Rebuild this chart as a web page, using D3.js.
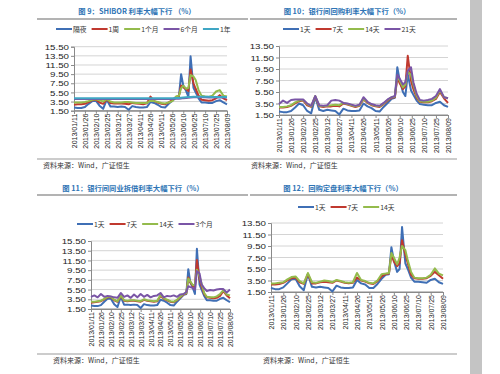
<!DOCTYPE html>
<html lang="zh">
<head>
<meta charset="UTF-8">
<title>利率大幅下行</title>
<script src="https://d3js.org/d3.v7.min.js"></script>
<style>
  * { margin: 0; padding: 0; }
  body { background: #fff; width: 500px; height: 374px; overflow: hidden; }
  svg { display: block; }
  .title { font-family: "Noto Sans CJK SC", sans-serif; font-size: 7.3px; fill: #2e74b5; font-weight: bold; }
  .legend text { font-family: "Noto Sans CJK SC", sans-serif; font-size: 6.8px; fill: #333; }
  .src { font-family: "Noto Sans CJK SC", serif; font-size: 7px; fill: #333; }
  .ytick { font-family: "Liberation Sans", Arial, sans-serif; font-size: 7.6px; fill: #222; }
  .xtick { font-family: "Liberation Sans", Arial, sans-serif; font-size: 7px; fill: #222; }
</style>
</head>
<body>
<svg id="chart" width="500" height="374"></svg>
<script>
// sample dates shared by all four charts
const dates = [
  "2013-01-11","2013-01-16","2013-01-21","2013-01-26","2013-01-31","2013-02-05","2013-02-10","2013-02-15","2013-02-20","2013-02-25",
  "2013-03-02","2013-03-07","2013-03-12","2013-03-17","2013-03-22","2013-03-27","2013-04-01","2013-04-06","2013-04-11","2013-04-16",
  "2013-04-21","2013-04-26","2013-05-01","2013-05-06","2013-05-11","2013-05-16","2013-05-21","2013-05-26","2013-05-31","2013-06-04",
  "2013-06-07","2013-06-10","2013-06-14","2013-06-17","2013-06-20","2013-06-24","2013-06-27","2013-07-01","2013-07-05","2013-07-10",
  "2013-07-15","2013-07-20","2013-07-25","2013-07-30","2013-08-04","2013-08-09"
];
const tickLabels = ["2013/01/11","2013/01/26","2013/02/10","2013/02/25","2013/03/12","2013/03/27","2013/04/11",
  "2013/04/26","2013/05/11","2013/05/26","2013/06/10","2013/06/25","2013/07/10","2013/07/25","2013/08/09"];
const yTicks155 = [1.5, 3.5, 5.5, 7.5, 9.5, 11.5, 13.5, 15.5];
const yTicks135 = [1.5, 3.5, 5.5, 7.5, 9.5, 11.5, 13.5];

// 图9 SHIBOR
const shiborON = [2.2,2.1,2.1,2.3,3.0,3.6,3.7,2.6,1.9,3.9, 2.4,2.4,2.3,2.4,2.3,1.7,2.5,2.3,2.2,2.2,
  2.3,3.4,3.2,2.8,2.3,2.2,3.0,3.7,4.4,4.6, 9.5,7.0,5.8,4.5,13.4,6.5,5.5,4.2,3.3,3.3, 3.2,3.2,3.6,3.8,3.3,2.9];
const shibor1W = [2.8,2.9,2.9,3.0,3.4,3.8,3.9,3.3,3.0,4.0, 3.2,3.1,3.1,3.1,3.0,2.9,3.2,3.1,3.0,2.9,
  3.1,4.6,3.6,3.3,3.0,2.9,3.3,3.8,4.5,4.7, 7.0,6.6,6.2,5.8,10.5,7.5,6.3,4.8,3.9,3.8, 3.7,3.8,4.2,4.9,4.2,3.8];
const shibor1M = [3.3,3.3,3.3,3.4,3.6,3.9,4.0,3.8,3.5,4.0, 3.5,3.3,3.3,3.3,3.4,3.4,3.3,3.2,3.2,3.2,
  3.2,3.7,3.6,3.4,3.2,3.1,3.3,3.6,4.6,4.8, 6.4,7.0,6.3,6.5,9.3,9.0,8.2,6.0,4.8,4.6, 4.5,4.8,5.7,6.0,4.8,4.6];
const shibor6M = [4.04,4.04,4.04,4.05,4.05,4.06,4.06,4.06,4.06,4.06, 4.06,4.06,4.06,4.06,4.07,4.07,4.07,4.07,4.07,4.07,
  4.07,4.07,4.07,4.07,4.07,4.07,4.08,4.08,4.10,4.12, 4.18,4.25,4.30,4.34,4.38,4.42,4.44,4.44,4.43,4.42, 4.41,4.40,4.40,4.40,4.40,4.40];
const shibor1Y = [4.22,4.22,4.22,4.23,4.23,4.24,4.24,4.24,4.24,4.24, 4.24,4.24,4.24,4.24,4.24,4.24,4.24,4.24,4.24,4.24,
  4.24,4.24,4.24,4.24,4.24,4.24,4.25,4.25,4.27,4.30, 4.35,4.40,4.44,4.47,4.50,4.53,4.55,4.55,4.55,4.54, 4.53,4.52,4.52,4.52,4.52,4.52];

// 图10 银行间回购
const repo1D = [2.1,2.0,2.0,2.2,2.8,3.5,3.2,2.2,1.8,4.6, 2.4,2.2,2.4,2.3,2.2,1.6,2.6,2.3,2.2,2.2,
  2.3,3.5,3.0,2.7,2.2,2.1,2.9,3.6,4.3,4.5, 9.8,7.5,5.5,4.8,8.6,5.8,5.0,4.0,3.4,3.3, 3.2,3.2,3.6,3.8,3.2,2.9];
const repo7D = [2.8,2.8,2.9,3.1,3.5,3.9,4.0,3.2,2.9,4.7, 3.0,2.9,3.0,3.0,3.1,3.0,3.5,3.3,3.1,2.9,
  3.1,4.2,3.6,3.2,3.0,2.9,3.4,4.0,4.5,4.6, 8.0,7.0,6.0,6.5,11.8,7.5,6.0,4.5,3.8,3.7, 3.7,3.9,4.3,5.5,4.4,3.6];
const repo14D = [2.9,2.9,3.0,3.2,3.7,4.0,4.1,3.4,3.0,4.8, 3.1,3.0,3.1,3.2,3.3,3.2,3.6,3.4,3.2,3.0,
  3.2,4.3,3.7,3.3,3.1,3.0,3.5,4.1,4.6,4.7, 8.3,7.5,6.3,6.8,9.0,8.5,6.8,4.8,3.9,3.8, 3.8,4.0,4.5,5.8,4.6,4.4];
const repo21D = [3.4,4.0,3.6,4.1,4.2,4.2,4.2,3.5,3.1,4.8, 3.2,3.1,3.2,4.0,4.1,4.0,3.6,3.5,3.3,3.1,
  3.3,4.6,3.8,3.4,3.2,3.1,3.6,4.2,4.6,4.8, 8.5,7.8,6.8,7.2,9.2,9.8,7.2,5.2,4.1,4.0, 4.1,4.3,4.8,6.0,4.6,4.4];

// 图11 同业拆借
const ibl1D = [2.2,2.1,2.1,2.3,3.0,3.6,3.6,2.5,1.9,4.0, 2.4,2.4,2.3,2.4,2.3,1.7,2.5,2.3,2.2,2.2,
  2.3,3.4,3.2,2.8,2.3,2.2,3.0,3.7,4.4,4.6, 9.7,7.0,5.8,4.6,13.9,6.5,5.5,4.2,3.3,3.3, 3.2,3.2,3.6,3.8,3.3,2.9];
const ibl7D = [2.8,2.9,3.0,3.1,3.5,3.9,3.9,3.3,3.0,4.2, 3.2,3.1,3.2,3.2,3.1,3.0,3.4,3.2,3.1,3.0,
  3.1,4.2,3.6,3.3,3.0,2.9,3.3,3.9,4.5,4.7, 8.0,7.0,6.2,6.0,11.6,7.6,6.2,4.6,3.9,3.8, 3.7,3.8,4.2,5.2,4.3,3.7];
const ibl14D = [3.0,3.0,3.1,3.2,3.6,4.0,4.0,3.4,3.1,4.3, 3.3,3.2,3.3,3.3,3.2,3.1,3.5,3.3,3.2,3.1,
  3.2,4.4,3.7,3.4,3.1,3.0,3.4,4.0,4.6,4.8, 7.8,7.2,6.4,6.5,9.6,8.2,6.8,4.8,4.0,3.9, 3.9,4.1,4.6,5.4,4.5,4.3];
const ibl3M = [4.0,4.3,3.9,4.6,4.0,4.2,4.1,3.9,3.8,4.8, 4.0,4.3,3.8,4.5,3.9,4.6,4.0,4.4,3.9,4.2,
  4.3,4.8,3.9,4.2,4.1,4.3,4.0,4.5,4.6,5.0, 6.2,6.0,5.8,5.5,9.3,8.8,6.6,5.8,5.2,5.4, 5.3,5.5,5.6,5.6,4.9,5.5];

// 图12 回购定盘
const fix1D = [2.2,2.0,2.0,2.3,3.0,3.7,3.8,2.5,1.8,4.6, 2.4,2.3,2.4,2.3,2.2,1.6,2.6,2.3,2.2,2.2,
  2.3,3.6,3.0,2.8,2.2,2.2,2.9,3.8,4.5,4.6, 9.3,7.0,5.0,5.5,12.8,6.5,5.5,4.0,3.3,3.3, 3.2,3.1,3.6,3.8,3.2,2.9];
const fix7D = [2.8,2.8,2.9,3.1,3.5,3.9,4.0,3.2,2.9,4.6, 3.0,3.0,3.2,3.3,3.2,3.1,3.5,3.3,3.1,3.0,
  3.1,4.0,3.5,3.3,3.0,2.9,3.4,4.2,4.6,4.7, 8.0,6.8,6.0,6.5,10.5,8.0,6.5,4.5,3.9,3.8, 3.8,3.9,4.3,5.0,4.4,3.8];
const fix14D = [3.0,3.0,3.1,3.2,3.7,4.1,4.2,3.4,3.0,4.8, 3.2,3.1,3.3,3.5,3.4,3.2,3.6,3.4,3.2,3.1,
  3.2,4.8,3.6,3.4,3.1,3.0,3.5,4.6,4.7,4.8, 8.3,7.5,6.3,7.5,9.5,8.8,7.0,5.0,4.0,3.9, 3.9,4.0,4.5,5.6,4.7,4.4];

const colors = ["#3f6fb5", "#c0392f", "#94bb4c", "#7a55a6", "#3fa6c4"];
const srcText = "资料来源：Wind，广证恒生";

const svg = d3.select("#chart");
const parse = d3.timeParse("%Y-%m-%d");
const parseTick = d3.timeParse("%Y/%m/%d");
const xDates = dates.map(parse);

// gray band on the right edge
svg.append("rect").attr("x", 470).attr("y", 0).attr("width", 12).attr("height", 374).attr("fill", "#c4c4c4");

const panels = [
  { title: "图 9：SHIBOR 利率大幅下行 （%）", tx: 137, ty: 14, rule: [37, 248, 19],
    names: ["隔夜", "1周", "1个月", "6个月", "1年"], series: [shiborON, shibor1W, shibor1M, shibor6M, shibor1Y],
    lx: 56, ly: 29, x0: 74, x1: 227, yTop: 46.7, yBot: 110.7, ticks: yTicks155,
    src: [37, 250, 159], sx: 43, sy: 168 },
  { title: "图 10：银行间回购利率大幅下行（%）", tx: 347, ty: 14, rule: [250, 457, 19],
    names: ["1天", "7天", "14天", "21天"], series: [repo1D, repo7D, repo14D, repo21D],
    lx: 283, ly: 29, x0: 279, x1: 448, yTop: 46, yBot: 115, ticks: yTicks135,
    src: [250, 457, 159], sx: 251, sy: 168 },
  { title: "图 11：银行间同业拆借利率大幅下行（%）", tx: 133, ty: 191, rule: [37, 248, 195],
    names: ["1天", "7天", "14天", "3个月"], series: [ibl1D, ibl7D, ibl14D, ibl3M],
    lx: 77, ly: 224, x0: 91, x1: 230, yTop: 241, yBot: 309, ticks: yTicks155,
    src: [37, 250, 354], sx: 53, sy: 363 },
  { title: "图 12：回购定盘利率大幅下行（%）", tx: 343, ty: 191, rule: [250, 457, 195],
    names: ["1天", "7天", "14天"], series: [fix1D, fix7D, fix14D],
    lx: 298, ly: 207, x0: 271, x1: 443, yTop: 223, yBot: 292, ticks: yTicks135,
    src: [250, 457, 354], sx: 263, sy: 363 }
];

panels.forEach(p => {
  const g = svg.append("g");

  g.append("text").attr("class", "title").attr("x", p.tx).attr("y", p.ty)
    .attr("text-anchor", "middle").text(p.title);
  g.append("line").attr("x1", p.rule[0]).attr("x2", p.rule[1]).attr("y1", p.rule[2]).attr("y2", p.rule[2])
    .attr("stroke", "#9a9a9a").attr("stroke-width", 1.6);

  // legend
  const leg = g.append("g").attr("class", "legend");
  let lx = p.lx;
  p.names.forEach((n, i) => {
    leg.append("line").attr("x1", lx).attr("x2", lx + 16).attr("y1", p.ly).attr("y2", p.ly)
      .attr("stroke", colors[i]).attr("stroke-width", 2);
    const t = leg.append("text").attr("x", lx + 17).attr("y", p.ly + 2.5).text(n);
    lx += 17 + t.node().getComputedTextLength() + 5;
  });

  const x = d3.scaleTime()
    .domain([parseTick(tickLabels[0]), parseTick(tickLabels[tickLabels.length - 1])])
    .range([p.x0, p.x1]);
  const y = d3.scaleLinear().domain([p.ticks[0], p.ticks[p.ticks.length - 1]]).range([p.yBot, p.yTop]);

  // grid
  g.selectAll(".grid").data(p.ticks).enter().append("line")
    .attr("x1", p.x0).attr("x2", p.x1).attr("y1", d => y(d)).attr("y2", d => y(d))
    .attr("stroke", d => d === p.ticks[0] ? "#8a8a8a" : "#d4d4d4").attr("stroke-width", 1);

  // y axis
  const yAxis = d3.axisLeft(y).tickValues(p.ticks).tickSize(3).tickFormat(d3.format(".2f"));
  const ya = g.append("g").attr("transform", `translate(${p.x0},0)`).call(yAxis);
  ya.select(".domain").attr("stroke", "#8a8a8a");
  ya.selectAll(".tick line").attr("stroke", "#8a8a8a");
  ya.selectAll(".tick text").attr("class", "ytick").attr("x", -5).attr("dy", "0.35em")
    .attr("font-family", null).attr("font-size", null).attr("fill", null)
    .each(function () {
      // the original picture is stretched sideways a little
      const w = this.getComputedTextLength();
      d3.select(this).attr("textLength", w * 1.28).attr("lengthAdjust", "spacingAndGlyphs");
    });

  // x axis
  const xAxis = d3.axisBottom(x).tickValues(tickLabels.map(parseTick)).tickSize(3)
    .tickFormat(d3.timeFormat("%Y/%m/%d"));
  const xa = g.append("g").attr("transform", `translate(0,${p.yBot})`).call(xAxis);
  xa.select(".domain").attr("stroke", "#8a8a8a");
  xa.selectAll(".tick line").attr("stroke", "#8a8a8a");
  xa.selectAll(".tick text").attr("class", "xtick")
    .attr("font-family", null).attr("font-size", null).attr("fill", null)
    .attr("transform", "rotate(-90)").attr("text-anchor", "end")
    .attr("x", -3).attr("y", 0).attr("dy", "0.35em");

  // lines
  const line = d3.line().x((d, i) => x(xDates[i])).y(d => y(d));
  p.series.forEach((s, i) => {
    g.append("path").datum(s).attr("d", line).attr("fill", "none")
      .attr("stroke", colors[i]).attr("stroke-width", 2).attr("stroke-linejoin", "round");
  });

  // source
  g.append("line").attr("x1", p.src[0]).attr("x2", p.src[1]).attr("y1", p.src[2]).attr("y2", p.src[2])
    .attr("stroke", "#9a9a9a").attr("stroke-width", 1.2);
  g.append("text").attr("class", "src").attr("x", p.sx).attr("y", p.sy).text(srcText);
});
</script>
</body>
</html>
